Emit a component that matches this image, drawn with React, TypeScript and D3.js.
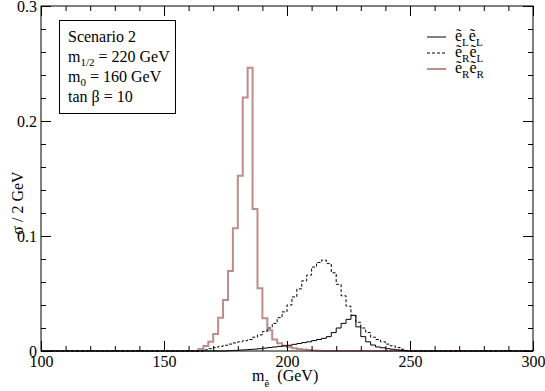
import { useRef, useEffect } from "react";
import * as d3 from "d3";

// histogram bins are 2 GeV wide; each series lists its nonzero bins from a start mass
const binWidth = 2;

const eLeLStart = 176;
const eLeL = [
  0.0003, 0.0005, 0.0008, 0.001, 0.0013, 0.0016, 0.002, 0.0025, 0.003, 0.0035,
  0.004, 0.0045, 0.005, 0.0058, 0.0065, 0.0073, 0.008, 0.009, 0.01, 0.011,
  0.0125, 0.016, 0.02, 0.024, 0.0275, 0.031, 0.021, 0.0125, 0.008, 0.0052,
  0.0035, 0.0028, 0.002, 0.0015, 0.001, 0.0005,
];

const eReLStart = 166;
const eReL = [
  0.001, 0.002, 0.003, 0.004, 0.005, 0.006, 0.007, 0.008, 0.009, 0.01,
  0.012, 0.014, 0.017, 0.02, 0.024, 0.029, 0.034, 0.04, 0.047, 0.054,
  0.061, 0.066, 0.073, 0.077, 0.079, 0.076, 0.068, 0.058, 0.048, 0.039,
  0.031, 0.025, 0.02, 0.016, 0.012, 0.01, 0.008, 0.006, 0.0045, 0.003,
  0.0015, 0.0005,
];

const eReRStart = 164;
const eReR = [
  0.0017, 0.0043, 0.0081, 0.0148, 0.029, 0.0443, 0.0696, 0.1067, 0.1524, 0.2205,
  0.2464, 0.1235, 0.0545, 0.0284, 0.018, 0.01, 0.0067, 0.0046, 0.0035, 0.0025,
  0.0018, 0.0012, 0.0008, 0.0005, 0.0003,
];

const xMajorTicks = [100, 150, 200, 250, 300];
const xMinorTicks = d3.range(100, 301, 10);
const yMajorTicks = [0, 0.1, 0.2, 0.3];
const yMinorTicks = d3.range(0, 0.301, 0.02);
const yTickLabels = ["0", "0.1", "0.2", "0.3"];

const pink = "#bf8c8c";
const font = "Liberation Serif, DejaVu Serif, serif";

const width = 545,
  height = 391,
  marginLeft = 41,
  marginRight = 12,
  marginTop = 6,
  marginBottom = 40;

function toPoints(start: number, values: number[]): [number, number][] {
  const pts: [number, number][] = [[100, 0]];
  values.forEach((v, i) => pts.push([start + i * binWidth, v]));
  pts.push([start + values.length * binWidth, 0]);
  pts.push([300, 0]);
  return pts;
}

export default function App() {
  const gx = useRef<SVGGElement>(null),
    gy = useRef<SVGGElement>(null),
    gTop = useRef<SVGGElement>(null),
    gRight = useRef<SVGGElement>(null);

  const x = d3
    .scaleLinear()
    .domain([100, 300])
    .range([marginLeft, width - marginRight]);
  const y = d3
    .scaleLinear()
    .domain([0, 0.3])
    .range([height - marginBottom, marginTop]);

  const line = d3
    .line<[number, number]>()
    .x((d) => x(d[0]))
    .y((d) => y(d[1]))
    .curve(d3.curveStepAfter);

  useEffect(() => {
    const styleText = (g: any) =>
      g
        .attr("font-family", font)
        .attr("font-size", 16)
        .selectAll("text")
        .attr("fill", "#000");

    const bottom = d3.select(gx.current!);
    bottom.selectAll("*").remove();
    bottom
      .append("g")
      .call(d3.axisBottom(x).tickValues(xMinorTicks).tickSize(-5).tickSizeOuter(0).tickFormat(() => ""));
    bottom
      .append("g")
      .call(d3.axisBottom(x).tickValues(xMajorTicks).tickSize(-10).tickSizeOuter(0).tickPadding(5))
      .call(styleText);
    bottom.selectAll(".domain").remove();

    const left = d3.select(gy.current!);
    left.selectAll("*").remove();
    left
      .append("g")
      .call(d3.axisLeft(y).tickValues(yMinorTicks).tickSize(-5).tickSizeOuter(0).tickFormat(() => ""));
    left
      .append("g")
      .call(
        d3
          .axisLeft(y)
          .tickValues(yMajorTicks)
          .tickSize(-10)
          .tickSizeOuter(0)
          .tickPadding(4)
          .tickFormat((_, i) => yTickLabels[i])
      )
      .call(styleText);
    left.selectAll(".domain").remove();

    const top = d3.select(gTop.current!);
    top.selectAll("*").remove();
    top.append("g").call(d3.axisTop(x).tickValues(xMinorTicks).tickSize(-5).tickSizeOuter(0).tickFormat(() => ""));
    top.append("g").call(d3.axisTop(x).tickValues(xMajorTicks).tickSize(-10).tickSizeOuter(0).tickFormat(() => ""));
    top.selectAll(".domain").remove();

    const right = d3.select(gRight.current!);
    right.selectAll("*").remove();
    right.append("g").call(d3.axisRight(y).tickValues(yMinorTicks).tickSize(-5).tickSizeOuter(0).tickFormat(() => ""));
    right.append("g").call(d3.axisRight(y).tickValues(yMajorTicks).tickSize(-10).tickSizeOuter(0).tickFormat(() => ""));
    right.selectAll(".domain").remove();
    // eslint-disable-next-line
  }, []);

  const legend = [
    { sub1: "L", sub2: "L", stroke: "#000", dash: null },
    { sub1: "R", sub2: "L", stroke: "#000", dash: "3,2" },
    { sub1: "R", sub2: "R", stroke: pink, dash: null },
  ];

  return (
    <svg
      width={width}
      height={height}
      fontFamily={font}
      style={{ position: "absolute", left: 0, top: 0, background: "#fff" }}
    >
      <path d={line(toPoints(eReRStart, eReR))!} fill="none" stroke={pink} strokeWidth={2} />
      <path d={line(toPoints(eReLStart, eReL))!} fill="none" stroke="#000" strokeWidth={1} strokeDasharray="3,2" />
      <path d={line(toPoints(eLeLStart, eLeL))!} fill="none" stroke="#000" strokeWidth={1} />

      <rect
        x={marginLeft}
        y={marginTop}
        width={width - marginLeft - marginRight}
        height={height - marginTop - marginBottom}
        fill="none"
        stroke="#000"
        strokeWidth={1}
      />
      <g ref={gx} transform={`translate(0,${height - marginBottom})`} />
      <g ref={gy} transform={`translate(${marginLeft},0)`} />
      <g ref={gTop} transform={`translate(0,${marginTop})`} />
      <g ref={gRight} transform={`translate(${width - marginRight},0)`} />

      {/* info box */}
      <rect x={59.5} y={20.5} width={116} height={93} fill="#fff" stroke="#000" strokeWidth={1} />
      <text x={68} y={42} fontSize={16}>Scenario 2</text>
      <text x={68} y={62} fontSize={16}>
        m<tspan fontSize={11} dy={4}>1/2</tspan>
        <tspan dy={-4}> = 220 GeV</tspan>
      </text>
      <text x={68} y={82} fontSize={16}>
        m<tspan fontSize={11} dy={4}>0</tspan>
        <tspan dy={-4}> = 160 GeV</tspan>
      </text>
      <text x={68} y={102} fontSize={16}>tan β = 10</text>

      {/* legend */}
      {legend.map((d, i) => (
        <g key={i} transform={`translate(0,${37 + i * 16})`}>
          <line
            x1={427}
            x2={446}
            y1={0}
            y2={0}
            stroke={d.stroke}
            strokeWidth={d.stroke === pink ? 2 : 1}
            strokeDasharray={d.dash ?? undefined}
          />
          <text x={455} y={4} fontSize={16}>
            ẽ<tspan fontSize={11} dy={5}>{d.sub1}</tspan>
            <tspan dy={-5}>ẽ</tspan>
            <tspan fontSize={11} dy={5}>{d.sub2}</tspan>
          </text>
        </g>
      ))}

      {/* axis titles */}
      <text transform="translate(23,203) rotate(-90)" textAnchor="middle" fontSize={16}>
        σ / 2 GeV
      </text>
      <text x={252} y={381} fontSize={16}>
        m<tspan fontSize={11} dy={6}>ẽ</tspan>
        <tspan dy={-6}>{"\u00a0\u00a0(GeV)"}</tspan>
      </text>
    </svg>
  );
}
